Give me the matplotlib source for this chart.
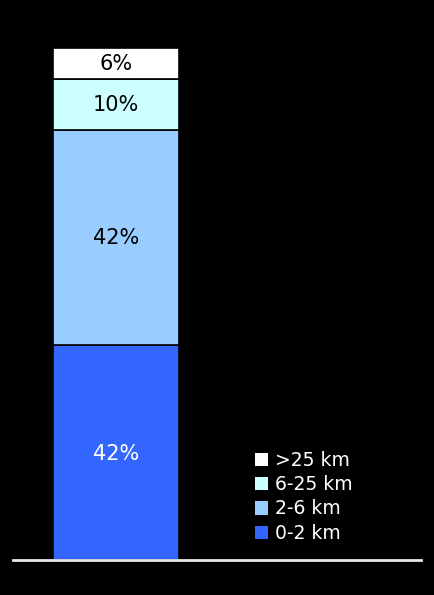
import matplotlib
matplotlib.use('Agg')
import matplotlib.pyplot as plt

# 거리별 비율 (아래에서 위로)
labels = ['0-2 km', '2-6 km', '6-25 km', '>25 km']
shares = [42, 42, 10, 6]
colors = ['#3366FF', '#99CCFF', '#CCFFFF', '#FFFFFF']
text_colors = ['white', 'black', 'black', 'black']

plt.rcParams['font.family'] = ['DejaVu Sans']

fig = plt.figure(figsize=(4.35, 5.95), dpi=100, facecolor='black')
ax = fig.add_axes([13 / 435, 35 / 595, 408 / 435, 512 / 595])
ax.set_facecolor('black')

bottom = 0
handles = []
for lab, val, col, tc in zip(labels, shares, colors, text_colors):
    b = ax.bar(0, val, width=1, bottom=bottom, color=col,
               edgecolor='black', linewidth=1.2, label=lab)
    handles.append(b)
    ax.text(0, bottom + val / 2 - 0.2, f'{val}%', ha='center', va='center',
            fontsize=15, color=tc)
    bottom += val

ax.set_xlim(-0.817, 2.42)
ax.set_ylim(0, 100)
ax.axhline(0, color='#e8e8e8', linewidth=2, clip_on=False, zorder=5)
for s in ax.spines.values():
    s.set_visible(False)
ax.set_xticks([])
ax.set_yticks([])

leg = fig.legend(handles[::-1], labels[::-1], loc='upper left',
                 bbox_to_anchor=(255 / 435, 1 - 451 / 595), frameon=False,
                 fontsize=13.5, labelcolor='white', handlelength=0.72,
                 handleheight=0.72, handletextpad=0.35, labelspacing=0.28,
                 borderpad=0, borderaxespad=0)
for h in leg.legend_handles:
    h.set_edgecolor('none')

fig.savefig('out.png', dpi=100, facecolor='black')
